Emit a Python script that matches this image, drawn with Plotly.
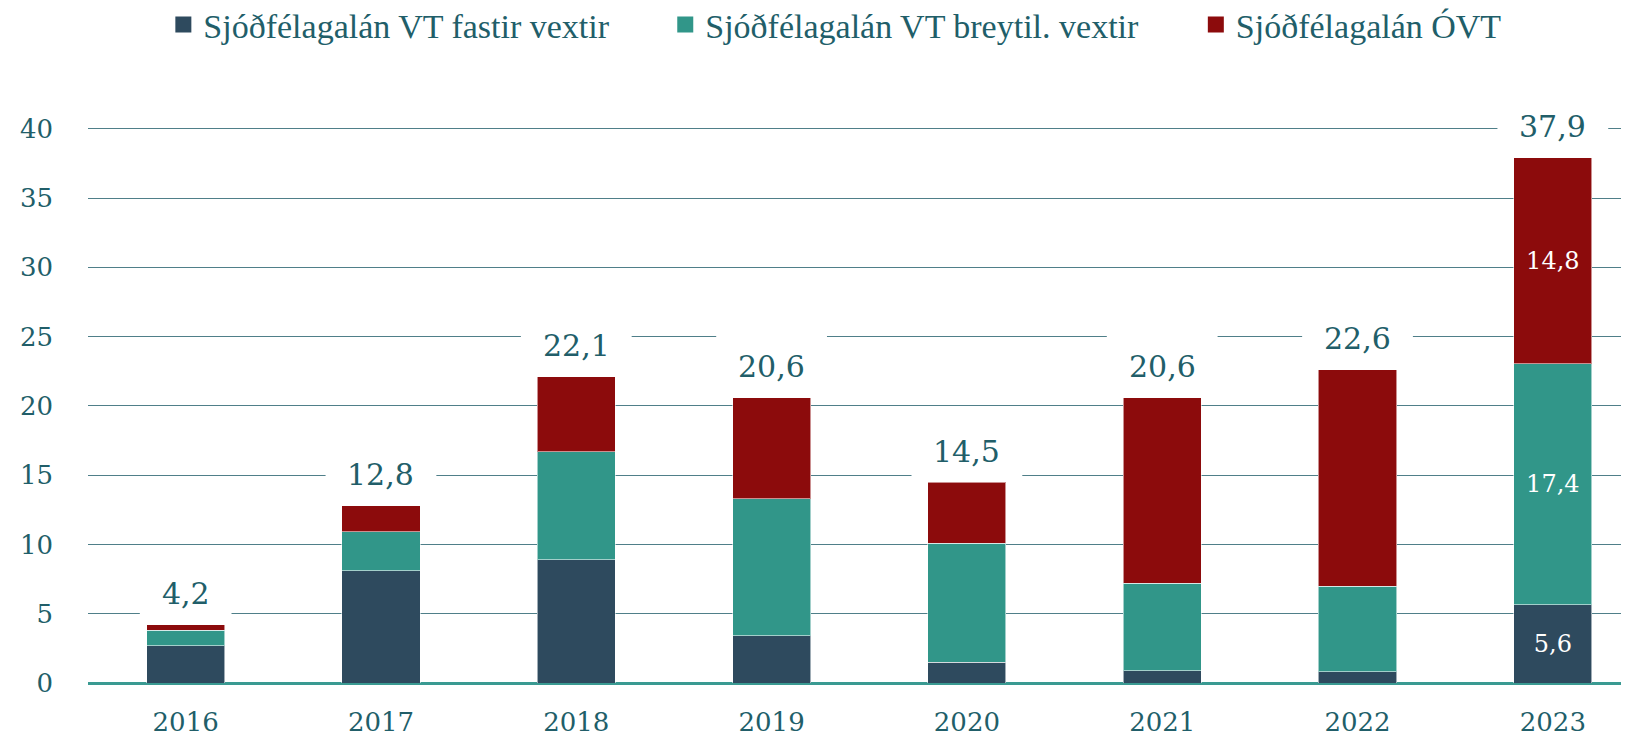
import plotly.graph_objects as go

years = ["2016", "2017", "2018", "2019", "2020", "2021", "2022", "2023"]
fixed_rate = [2.7, 8.1, 8.9, 3.4, 1.5, 0.9, 0.8, 5.63]
variable_rate = [1.1, 2.8, 7.8, 9.9, 8.6, 6.3, 6.2, 17.42]
non_indexed = [0.4, 1.9, 5.4, 7.3, 4.4, 13.4, 15.6, 14.84]
series_names = ["Sjóðfélagalán VT fastir vextir",
                "Sjóðfélagalán VT breytil. vextir",
                "Sjóðfélagalán ÓVT"]
y_ticks = [0, 5, 10, 15, 20, 25, 30, 35, 40]

colors = ["#2E4A5E", "#319689", "#8C0B0C"]
text_color = "#215E69"
grid_color = "#4F7F89"
num_font = "DejaVu Serif"
legend_font = "Liberation Serif"


def fmt(v):
    return f"{v:.1f}".replace(".", ",")


totals = [a + b + c for a, b, c in zip(fixed_rate, variable_rate, non_indexed)]
last = len(years) - 1

fig = go.Figure()
legend_ids = ["legend", "legend2", "legend3"]
for i, (name, vals) in enumerate(zip(series_names, [fixed_rate, variable_rate, non_indexed])):
    seg_text = [fmt(v) if k == last else "" for k, v in enumerate(vals)]
    fig.add_trace(go.Bar(
        x=years, y=vals, name=name,
        marker=dict(color=colors[i], line=dict(color="rgba(255,255,255,0.55)", width=1)),
        text=seg_text, textposition="inside", insidetextanchor="middle",
        textangle=0,
        textfont=dict(family=num_font, size=24, color="white"),
        showlegend=False,
        hoverinfo="skip",
    ))
    # legend entry with a larger square swatch
    fig.add_trace(go.Scatter(
        x=[None], y=[None], mode="markers", name=name,
        marker=dict(symbol="square", size=16, color=colors[i]),
        legend=legend_ids[i], showlegend=True, hoverinfo="skip",
    ))

# total labels with white knock-out boxes behind them (hide gridlines only)
label_size = 30
for k, t in enumerate(totals):
    txt = fmt(t)
    ndig = sum(ch.isdigit() for ch in txt)
    tw = label_size * (0.636 * ndig + 0.318 * txt.count(","))
    half_w = tw / 2 + 22
    fig.add_shape(type="rect", xref="x", yref="y",
                  xsizemode="pixel", ysizemode="pixel",
                  xanchor=k, yanchor=t,
                  x0=-half_w, x1=half_w, y0=0, y1=63,
                  fillcolor="white", line=dict(width=0), layer="between")
    fig.add_annotation(x=k, y=t, xref="x", yref="y", text=txt, showarrow=False,
                       yanchor="middle", yshift=31,
                       font=dict(family=num_font, size=label_size, color=text_color))

legend_common = dict(orientation="h", yref="container", yanchor="middle", y=0.9769,
                     xanchor="left",
                     font=dict(family=legend_font, size=34, color=text_color),
                     bgcolor="rgba(0,0,0,0)", itemsizing="trace",
                     itemclick=False, itemdoubleclick=False)
legend_x = [0.0489, 0.3746, 0.7189]

fig.update_layout(
    width=1629, height=737,
    margin=dict(l=80, r=8, t=93, b=62),
    paper_bgcolor="white", plot_bgcolor="white",
    barmode="stack", bargap=0.6,
    separators=",.",
    showlegend=True,
    legend=dict(x=legend_x[0], **legend_common),
    legend2=dict(x=legend_x[1], **legend_common),
    legend3=dict(x=legend_x[2], **legend_common),
    xaxis=dict(type="category", range=[-0.5, 7.39], showgrid=False,
               showline=False, ticks="", ticklabelstandoff=21, automargin=False,
               tickfont=dict(family=num_font, size=26, color=text_color)),
    yaxis=dict(range=[0, 42], tickvals=y_ticks, showgrid=True,
               gridcolor=grid_color, gridwidth=1,
               zeroline=True, zerolinecolor="#3A9A92", zerolinewidth=3,
               ticks="", ticklabelstandoff=34, showline=False, automargin=False,
               tickfont=dict(family=num_font, size=26, color=text_color)),
)

fig.write_html("out.html")
